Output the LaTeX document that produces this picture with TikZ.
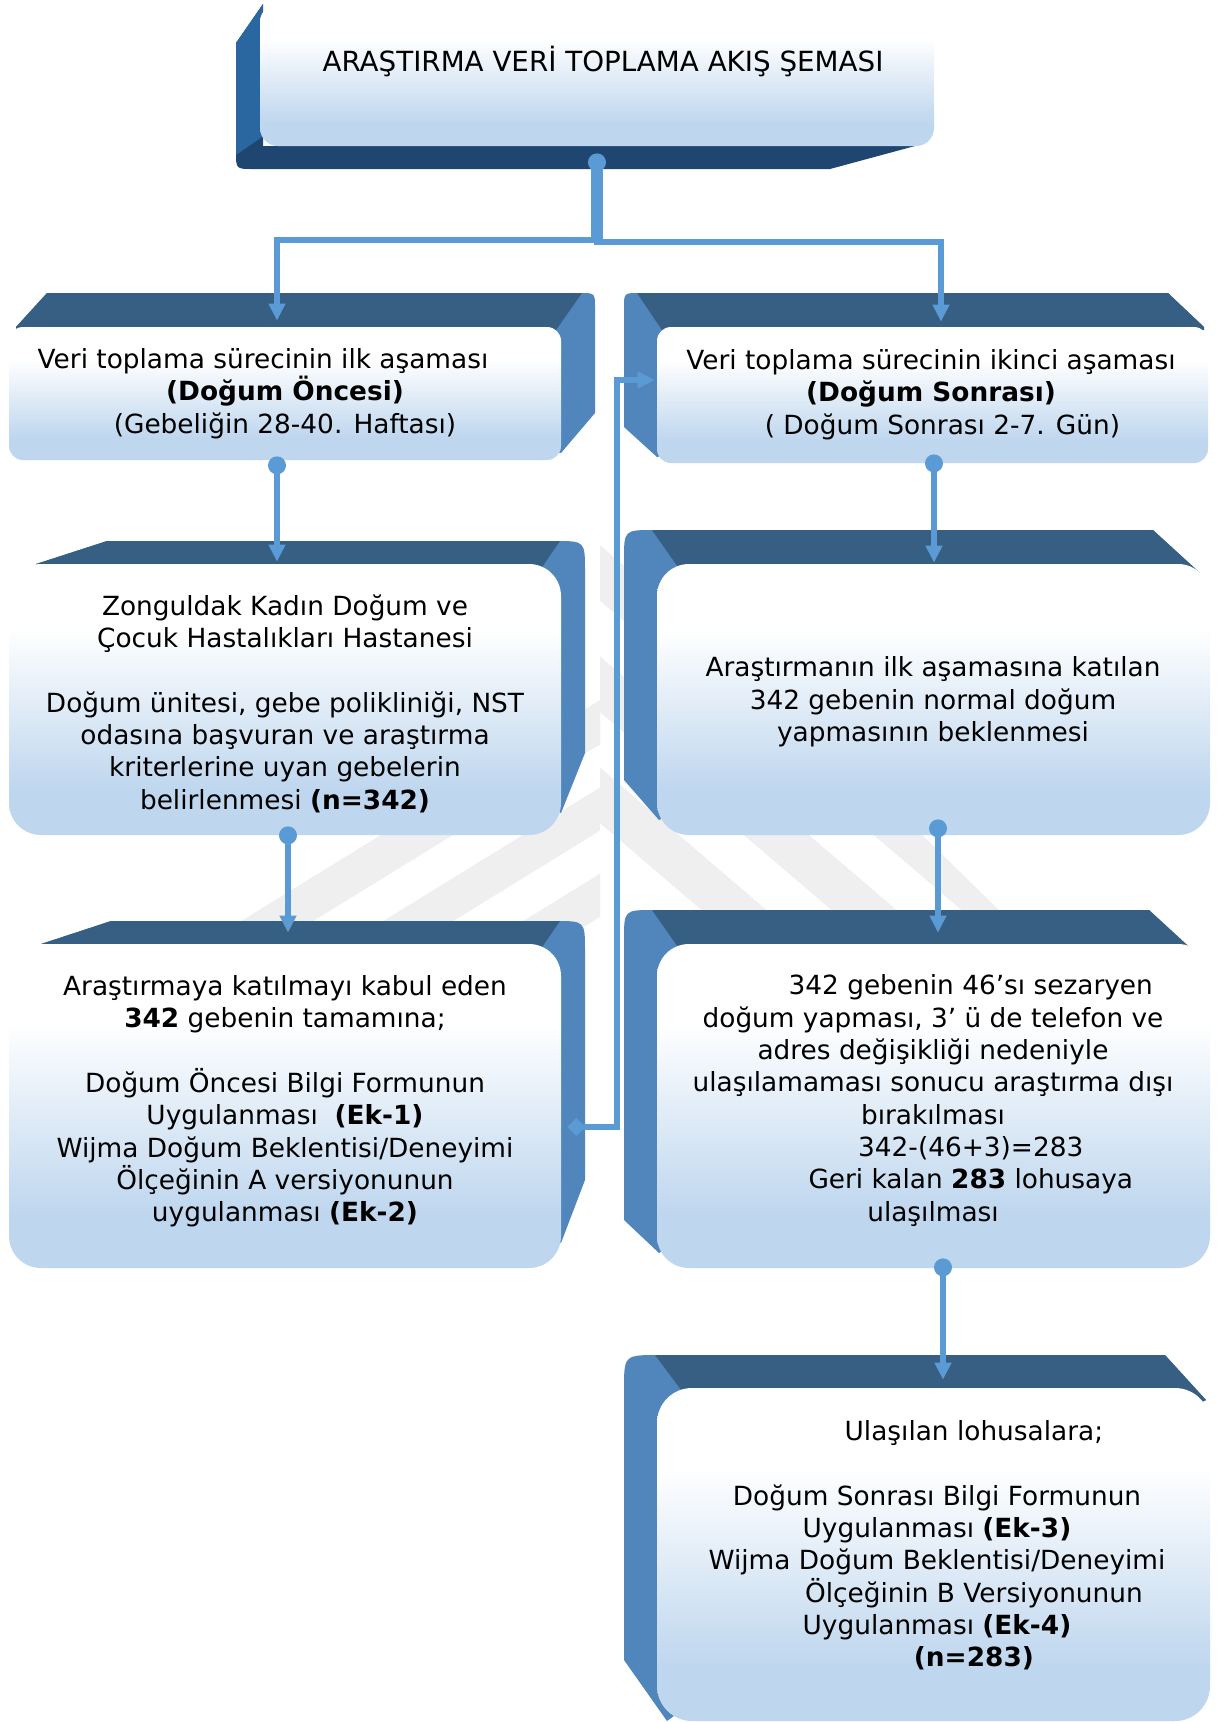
\documentclass[tikz,border=0pt]{standalone}
\usepackage{fontspec}
\setmainfont{DejaVu Sans}
\usetikzlibrary{arrows.meta,calc}
\definecolor{lbC}{RGB}{190,214,238}
\definecolor{bandC}{RGB}{55,94,131}
\definecolor{sideC}{RGB}{80,134,188}
\definecolor{tbandC}{RGB}{31,70,112}
\definecolor{tsideC}{RGB}{42,102,160}
\definecolor{connC}{RGB}{91,155,213}
\definecolor{wmC}{RGB}{239,239,239}
\pgfdeclareverticalshading{facefade}{100bp}{color(0bp)=(lbC); color(33bp)=(lbC); color(63bp)=(white); color(100bp)=(white)}
\begin{document}
\begin{tikzpicture}[x=0.02cm,y=-0.02cm,
  face/.style={shape=rectangle, inner sep=0pt, shade, shading=facefade},
  txt/.style={align=center, font=\fontsize{15}{18.4}\selectfont, inner sep=0pt, text=black},
  conn/.style={draw=connC, line width=0.12cm},
  arrowtip/.style={-{Triangle[length=0.34cm,width=0.32cm]}}]
\useasboundingbox (0,0) rectangle (1219,1722);
\clip (0,0) rectangle (1219,1722);
\fill[white] (0,0) rectangle (1219,1722);

% watermark (faint stripes)
\begin{scope}
  \clip (200,960) -- (600,520) -- (600,960) -- cycle;
  \foreach \a in {180,320,460,600}{
    \fill[wmC] (\a,960) -- (\a+70,960) -- (\a+70+422,700) -- (\a+422,700) -- cycle;
    \fill[wmC] (\a-422,960) -- (\a-352,960) -- (\a+70,700) -- (\a,700) -- cycle;
  }
\end{scope}
\begin{scope}
  \clip (600,520) -- (1050,960) -- (600,960) -- cycle;
  \foreach \a in {760,890,1020}{
    \fill[wmC] (\a,960) -- (\a+65,960) -- (\a+65-304,700) -- (\a-304,700) -- cycle;
    \fill[wmC] (\a-304,700) -- (\a-304+65,700) -- (\a+65-608,440) -- (\a-608,440) -- cycle;
  }
\end{scope}

% ---------- back (3D) parts ----------
% title
\fill[tbandC] (263,4) -- (236,43) -- (236,152) .. controls (236,169) .. (253,169) -- (830,169) -- (915,146) -- (263,146) -- cycle;
\fill[tsideC] (263,4) -- (236,43) -- (236,155) -- (262,137) -- cycle;
% L1
\fill[sideC] (16,327) -- (47,293) -- (580,293) .. controls (595,293) .. (595,308) -- (595,413) -- (561,453) -- (300,400) -- cycle;
\fill[bandC] (16,327) -- (47,293) -- (582,293) -- (556,330) -- (16,330) -- cycle;
% R1
\fill[sideC] (1204,327) -- (1168,293) -- (639,293) .. controls (624,293) .. (624,308) -- (624,427) -- (657,457) -- (900,400) -- cycle;
\fill[bandC] (1204,327) -- (1168,293) -- (637,293) -- (662,330) -- (1204,330) -- cycle;
% L2
\fill[sideC] (36,564) -- (107,541) -- (555,541) .. controls (585,541) .. (585,571) -- (585,753) -- (561,813) -- (300,700) -- cycle;
\fill[bandC] (36,564) -- (107,541) -- (560,541) -- (540,570) -- (36,570) -- cycle;
% R2
\fill[sideC] (1200,573) -- (1153,530) -- (654,530) .. controls (624,530) .. (624,560) -- (624,780) -- (659,820) -- (900,700) -- cycle;
\fill[bandC] (1200,573) -- (1153,530) -- (652,530) -- (680,570) -- (1195,580) -- cycle;
% L3
\fill[sideC] (41,944) -- (111,921) -- (555,921) .. controls (585,921) .. (585,951) -- (585,1180) -- (561,1243) -- (300,1100) -- cycle;
\fill[bandC] (41,944) -- (111,921) -- (560,921) -- (540,950) -- (41,950) -- cycle;
% R3
\fill[sideC] (1198,955) -- (1149,910) -- (654,910) .. controls (624,910) .. (624,940) -- (624,1220) -- (659,1253) -- (900,1100) -- cycle;
\fill[bandC] (1198,955) -- (1149,910) -- (652,910) -- (680,950) -- (1190,960) -- cycle;
% R4
\fill[sideC] (1206,1400) -- (1165,1355) -- (659,1355) .. controls (624,1355) .. (624,1390) -- (624,1660) -- (667,1721) -- (900,1550) -- cycle;
\fill[bandC] (1206,1400) -- (1165,1355) -- (655,1355) -- (685,1395) -- (1195,1405) -- cycle;

% ---------- front faces ----------
\node[face, minimum width=674*0.02cm, minimum height=142*0.02cm, rounded corners=0.36cm] (tf) at (597,75) {};
\node[face, minimum width=552*0.02cm, minimum height=133*0.02cm, rounded corners=0.28cm] (L1f) at (285,393.5) {};
\node[face, minimum width=551*0.02cm, minimum height=136*0.02cm, rounded corners=0.28cm] (R1f) at (932.5,395) {};
\node[face, minimum width=552*0.02cm, minimum height=271*0.02cm, rounded corners=0.64cm] (L2f) at (285,699.5) {};
\node[face, minimum width=553*0.02cm, minimum height=271*0.02cm, rounded corners=0.64cm] (R2f) at (933.5,699.5) {};
\node[face, minimum width=552*0.02cm, minimum height=324*0.02cm, rounded corners=0.64cm] (L3f) at (285,1106) {};
\node[face, minimum width=553*0.02cm, minimum height=324*0.02cm, rounded corners=0.64cm] (R3f) at (933.5,1106) {};
\node[face, minimum width=553*0.02cm, minimum height=333*0.02cm, rounded corners=0.7cm] (R4f) at (933.5,1554.5) {};

% ---------- texts ----------
\node[txt, font=\fontsize{15.8}{19}\selectfont] (tt) at (603,61) {ARAŞTIRMA VERİ TOPLAMA AKIŞ ŞEMASI};
\node[txt] (L1t) at (285,393.5) {Veri toplama sürecinin ilk aşaması\hspace*{25pt}\\ \textbf{(Doğum Öncesi)}\\ (Gebeliğin 28-40. Haftası)};
\node[txt] (R1t) at (931,394.5) {Veri toplama sürecinin ikinci aşaması\\ \textbf{(Doğum Sonrası)}\\ \hspace*{13pt}( Doğum Sonrası 2-7. Gün)};
\node[txt] (L2t) at (285,703.5) {Zonguldak Kadın Doğum ve\\ Çocuk Hastalıkları Hastanesi\\[18.4pt] Doğum ünitesi, gebe polikliniği, NST\\ odasına başvuran ve araştırma\\ kriterlerine uyan gebelerin\\ belirlenmesi \textbf{(n=342)}};
\node[txt] (R2t) at (933,702) {Araştırmanın ilk aşamasına katılan\\ 342 gebenin normal doğum\\ yapmasının beklenmesi};
\node[txt] (L3t) at (285,1101.5) {Araştırmaya katılmayı kabul eden\\ \textbf{342} gebenin tamamına;\\[18.4pt] Doğum Öncesi Bilgi Formunun\\ Uygulanması\ \ \textbf{(Ek-1)}\\ Wijma Doğum Beklentisi/Deneyimi\\ Ölçeğinin A versiyonunun\\ uygulanması \textbf{(Ek-2)}};
\node[txt] (R3t) at (933,1100.5) {\hspace*{43pt}342 gebenin 46’sı sezaryen\\ doğum yapması, 3’ ü de telefon ve\\ adres değişikliği nedeniyle\\ ulaşılamaması sonucu araştırma dışı\\ bırakılması\\ \hspace*{43pt}342-(46+3)=283\\ \hspace*{43pt}Geri kalan \textbf{283} lohusaya\\ ulaşılması};
\node[txt] (R4t) at (937,1545.5) {\hspace*{42pt}Ulaşılan lohusalara;\\[18.4pt] Doğum Sonrası Bilgi Formunun\\ Uygulanması \textbf{(Ek-3)}\\ Wijma Doğum Beklentisi/Deneyimi\\ \hspace*{42pt}Ölçeğinin B Versiyonunun\\ Uygulanması \textbf{(Ek-4)}\\ \hspace*{42pt}\textbf{(n=283)}};

% ---------- connectors ----------
\coordinate (tdot) at ($(tf.south)+(0,16)$);
\draw[conn, line width=0.24cm] (tdot) -- ++(0,78);
\draw[conn, arrowtip] (tdot) -- ++(0,78) -| ($(L1f.north)+(-8,-6)$);
\draw[conn, arrowtip] (tdot) -- ++(0,80) -| ($(R1f.north)+(8.5,-5)$);
\fill[connC] (tdot) circle (0.18cm);

\draw[conn, arrowtip] ($(L1f.south)+(-8,5)$) -- ($(L2f.north)+(-8,-2)$);
\fill[connC] ($(L1f.south)+(-8,5)$) circle (0.18cm);
\draw[conn, arrowtip] ($(R1f.south)+(1.5,0)$) -- ($(R2f.north)+(0.5,-1)$);
\fill[connC] ($(R1f.south)+(1.5,0)$) circle (0.18cm);
\draw[conn, arrowtip] ($(L2f.south)+(3,0)$) -- ($(L3f.north)+(3,-11)$);
\fill[connC] ($(L2f.south)+(3,0)$) circle (0.18cm);
\draw[conn, arrowtip] ($(R2f.south)+(4.5,-7)$) -- ($(R3f.north)+(4.5,-11)$);
\fill[connC] ($(R2f.south)+(4.5,-7)$) circle (0.18cm);
\draw[conn, arrowtip] ($(R3f.south)+(9.5,-1)$) -- ($(R4f.north)+(9.5,-8)$);
\fill[connC] ($(R3f.south)+(9.5,-1)$) circle (0.18cm);

\draw[conn, {Diamond[length=0.36cm,width=0.36cm]}-{Triangle[length=0.34cm,width=0.32cm]}] ($(L3f.east)+(6,21)$) -- ++(50,0) |- ($(R1f.west)+(-2,-15)$);
\end{tikzpicture}
\end{document}
